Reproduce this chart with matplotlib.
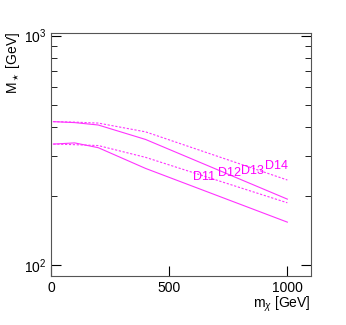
import numpy as np
import matplotlib.pyplot as plt

plt.rcParams['font.family'] = ['Liberation Sans', 'DejaVu Sans']
plt.rcParams['mathtext.fontset'] = 'custom'
plt.rcParams['mathtext.rm'] = 'Liberation Sans'
plt.rcParams['mathtext.it'] = 'Liberation Sans:italic'

# curves: dark matter mass vs suppression scale
mchi = [10, 100, 200, 400, 1000]
d11 = [337, 341, 325, 264, 154]    # lower solid
d12 = [337, 335, 332, 295, 187]    # lower dashed
d13 = [422, 418, 408, 353, 194]    # upper solid
d14 = [422, 420, 416, 381, 235]    # upper dashed

labels = ["D11", "D12", "D13", "D14"]
label_x = [600, 705, 805, 905]
label_y = [243, 252, 257, 270]

col = "#ff33ff"

fig = plt.figure(figsize=(3.46, 3.25), dpi=100)
ax = fig.add_axes([0.1474, 0.1517, 0.7514, 0.7477])

ax.plot(mchi, d11, color=col, lw=0.8)
ax.plot(mchi, d12, color=col, lw=0.8, ls=(0, (2, 1.5)))
ax.plot(mchi, d13, color=col, lw=0.8)
ax.plot(mchi, d14, color=col, lw=0.8, ls=(0, (2, 1.5)))

for t, x, y in zip(labels, label_x, label_y):
    ax.text(x, y, t, color="#ff00ff", fontsize=9, va="center", ha="left")

ax.set_yscale("log")
ax.set_xlim(0, 1100)
ax.set_ylim(90, 1030)
ax.set_xticks([0, 500, 1000])
ax.tick_params(which="both", direction="in", right=True, labelsize=10, colors="black")
ax.tick_params(which="major", length=7)
ax.tick_params(which="minor", length=4)
ax.tick_params(axis="x", which="minor", bottom=False)
for s in ax.spines.values():
    s.set_color("#555555")

ax.set_xlabel(r"m$_\chi$ [GeV]", fontsize=10, loc="right", labelpad=0)
fig.text(13 / 346, 1 - 32 / 325, r"M$_\star$ [GeV]", fontsize=10,
         rotation=90, ha="center", va="top")

fig.savefig("out.png", dpi=100)
